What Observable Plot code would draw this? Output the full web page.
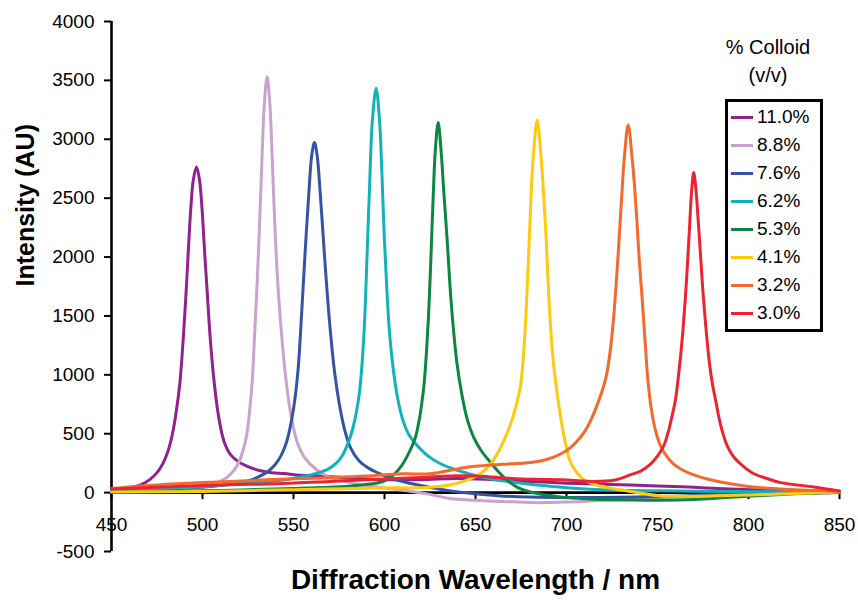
<!DOCTYPE html>
<html>
<head>
<meta charset="utf-8">
<script src="https://cdn.jsdelivr.net/npm/d3@7"></script>
<script src="https://cdn.jsdelivr.net/npm/@observablehq/plot@0.6"></script>
<style>
  html, body { margin: 0; padding: 0; background: #fff; }
  #wrap { position: relative; width: 858px; height: 602px; overflow: hidden; font-family: "Liberation Sans", Arial, sans-serif; }
  #legend-title { position: absolute; left: 718px; top: 33px; width: 100px; text-align: center; font-size: 20px; line-height: 28px; color: #000; }
  #legend { position: absolute; left: 725px; top: 99px; width: 92px; border: 3px solid #000; padding: 1px 0 2px 0; background: #fff; }
  .row { display: flex; align-items: center; height: 28px; font-size: 19px; color: #000; }
  .sw { width: 22px; height: 3px; margin-left: 3px; margin-right: 4px; }
</style>
</head>
<body>
<div id="wrap">
  <div id="chart"></div>
  <div id="legend-title">% Colloid<br>(v/v)</div>
  <div id="legend"></div>
</div>
<script>
const series = ["11.0%", "8.8%", "7.6%", "6.2%", "5.3%", "4.1%", "3.2%", "3.0%"];
const colors = ["#93208f", "#c9a3cf", "#3853a6", "#12b2bb", "#0b8643", "#ffc910", "#f36a2b", "#ee2330"];
const xTicks = [450, 500, 550, 600, 650, 700, 750, 800, 850];
const yTicks = [-500, 0, 500, 1000, 1500, 2000, 2500, 3000, 3500, 4000];

// [wavelength nm, intensity AU]
const s110 = [[450,30],[460,42],[466,65],[471,110],[475,170],[478,240],[481,350],[483.5,500],[485.5,680],[487.5,920],[489.3,1280],[490.8,1650],[492.2,2050],[493.6,2420],[495,2660],[496.7,2765],[498.3,2660],[499.7,2420],[501.1,2060],[502.6,1700],[504.3,1300],[506.4,940],[508.7,660],[511.7,440],[515.5,320],[520,260],[526,215],[532,185],[538,168],[545,162],[552,150],[565,140],[580,125],[600,110],[620,110],[640,120],[660,110],[680,95],[700,80],[720,70],[750,57],[770,45],[790,30],[820,15],[850,8]];
const s88 = [[450,20],[480,35],[500,55],[508,85],[513,125],[517,184],[520,260],[522.3,360],[524.2,480],[525.8,680],[527.3,940],[528.6,1330],[530,1770],[531.3,2250],[532.6,2800],[534,3300],[535.5,3530],[537,3300],[538.4,2800],[539.8,2250],[541.4,1770],[543.5,1330],[546,940],[548.8,640],[552,430],[556,300],[563,190],[570,130],[580,90],[590,60],[600,40],[615,10],[625,-15],[636,-50],[650,-65],[665,-75],[682,-85],[700,-80],[720,-65],[740,-50],[760,-35],[790,-20],[820,-8],[850,0]];
const s76 = [[450,15],[480,30],[500,45],[515,70],[525,100],[531,135],[535.5,175],[539.5,230],[543,310],[546.2,430],[549,620],[551,820],[552.8,1100],[554.2,1450],[555.5,1800],[557,2200],[558.5,2560],[560,2860],[561.5,2972],[563,2860],[564.6,2560],[566.3,2180],[568.1,1780],[570.2,1380],[572.6,1020],[575.2,750],[578,540],[581.3,382],[586,270],[591,210],[596,170],[602,130],[608.8,99],[620,60],[636.3,14],[650,-10],[663.7,-28],[680,-38],[700,-42],[730,-40],[760,-30],[790,-12],[820,-3],[850,0]];
const s62 = [[450,15],[480,35],[500,50],[520,75],[541,100],[555,135],[563,165],[569,200],[573.5,250],[577,320],[580,420],[582.5,540],[584.5,680],[586.3,860],[587.8,1120],[589.2,1500],[590.5,2050],[591.8,2600],[593.3,3150],[595.4,3433],[597.3,3150],[598.6,2700],[599.8,2200],[601.2,1750],[602.8,1350],[604.8,1050],[607,820],[610,620],[613.5,490],[618,400],[624,310],[630.8,245],[640,190],[654.6,127],[670,90],[685,62],[700.4,42],[720,25],[750,15],[790,10],[820,5],[850,2]];
const s53 = [[450,5],[500,15],[550,35],[580,55],[593,75],[600,100],[605,150],[609,220],[612.5,310],[615,390],[617,470],[619,610],[620.5,760],[621.8,930],[623,1180],[624.2,1500],[625.4,1950],[626.6,2450],[627.9,2900],[629.5,3142],[631.1,2900],[632.6,2550],[634.4,2150],[636,1750],[637.8,1400],[639.8,1100],[642.3,850],[645.5,620],[649,470],[653,360],[657.5,270],[661.9,190],[667,110],[673,45],[680,5],[690,-22],[700,-42],[715,-56],[735,-63],[751.6,-65],[770,-58],[788,-42],[810,-22],[830,-8],[850,0]];
const s41 = [[450,5],[500,10],[550,25],[600,40],[625,45],[640,80],[652.7,160],[658,240],[662,330],[665.5,440],[669,570],[672,720],[674.7,900],[676.5,1200],[678,1600],[679.8,2250],[681.5,2800],[683.9,3162],[686,2850],[688.5,2250],[690.5,1600],[692.5,1150],[694.9,835],[697,620],[699,450],[702.2,260],[708,130],[715,71],[725,35],[733.3,14],[751.6,-28],[770,-30],[800,-20],[830,-5],[850,5]];
const s32 = [[450,35],[475,65],[500,85],[525,100],[541,113],[570,127],[590,140],[610,160],[625,160],[643.5,212],[652.7,227],[665,240],[680.2,255],[690,285],[697,330],[702,380],[706,440],[710,520],[713.5,620],[716.5,730],[719.5,860],[722,1000],[724,1200],[725.7,1450],[727.2,1750],[728.7,2100],[730.2,2480],[731.8,2850],[733.9,3122],[736,2850],[737.4,2600],[738.7,2300],[740.1,1950],[741.6,1640],[743.2,1280],[744.7,960],[746.5,720],[748.7,540],[751.6,400],[755,310],[759,240],[764,190],[770,150],[777.3,115],[790,75],[800,52],[820,28],[850,12]];
const s30 = [[450,30],[475,45],[500,60],[525,70],[541,75],[570,95],[600,115],[620,128],[636,142],[650,140],[665,125],[682,113],[697,110],[715,95],[726,105],[735,150],[741,185],[746,240],[750,310],[753.5,400],[756,520],[758,650],[759.9,790],[761.3,960],[762.7,1160],[764,1380],[765.3,1650],[766.5,1950],[767.6,2250],[768.7,2550],[769.9,2717],[771.2,2560],[772.4,2300],[773.5,2050],[775,1700],[776.5,1420],[778.3,1130],[780.2,920],[782,780],[784,620],[786,500],[788.5,390],[792,300],[797,225],[803,160],[810,120],[817.6,85],[835.9,48],[850,14]];
const points = [s110, s88, s76, s62, s53, s41, s32, s30];

const data = series.flatMap((name, i) => points[i].map(([x, y]) => ({name, x, y})));

const chart = Plot.plot({
  width: 858,
  height: 602,
  marginLeft: 111,
  marginRight: 19,
  marginTop: 21,
  marginBottom: 51,
  style: {fontFamily: "'Liberation Sans', Arial, sans-serif", fontSize: "19px", color: "#000", background: "#fff"},
  x: {domain: [450, 850], axis: null},
  y: {domain: [-500, 4000], axis: null},
  color: {domain: series, range: colors},
  marks: [
    Plot.axisY({ticks: yTicks, tickSize: 7, tickPadding: 10, tickFormat: d => String(d), fontSize: 19, strokeWidth: 2, label: null}),
    Plot.ruleX([450], {y1: -500, y2: 4000, stroke: "#000", strokeWidth: 2.6}),
    Plot.ruleY([0], {x1: 450, x2: 850, stroke: "#000", strokeWidth: 2.6}),
    Plot.ruleX(xTicks, {x: d => d, y1: 0, y2: -60, stroke: "#000", strokeWidth: 2}),
    Plot.line(data, {x: "x", y: "y", z: "name", stroke: "name", strokeWidth: 3, curve: "catmull-rom"}),
    Plot.text(xTicks, {x: d => d, y: 0, dy: 32, text: d => String(d), fontSize: 19, fill: "#000"}),
    Plot.text(["Intensity (AU)"], {frameAnchor: "left", dx: -86, rotate: -90, text: d => d, fontSize: 25, fontWeight: "bold", fill: "#000"}),
    Plot.text(["Diffraction Wavelength / nm"], {frameAnchor: "bottom", dy: 37, text: d => d, fontSize: 28, fontWeight: "bold", fill: "#000"})
  ]
});
document.getElementById("chart").appendChild(chart);

const legend = document.getElementById("legend");
series.forEach((name, i) => {
  const row = document.createElement("div");
  row.className = "row";
  const sw = document.createElement("div");
  sw.className = "sw";
  sw.style.background = colors[i];
  const t = document.createElement("span");
  t.textContent = name;
  row.appendChild(sw);
  row.appendChild(t);
  legend.appendChild(row);
});
</script>
</body>
</html>
